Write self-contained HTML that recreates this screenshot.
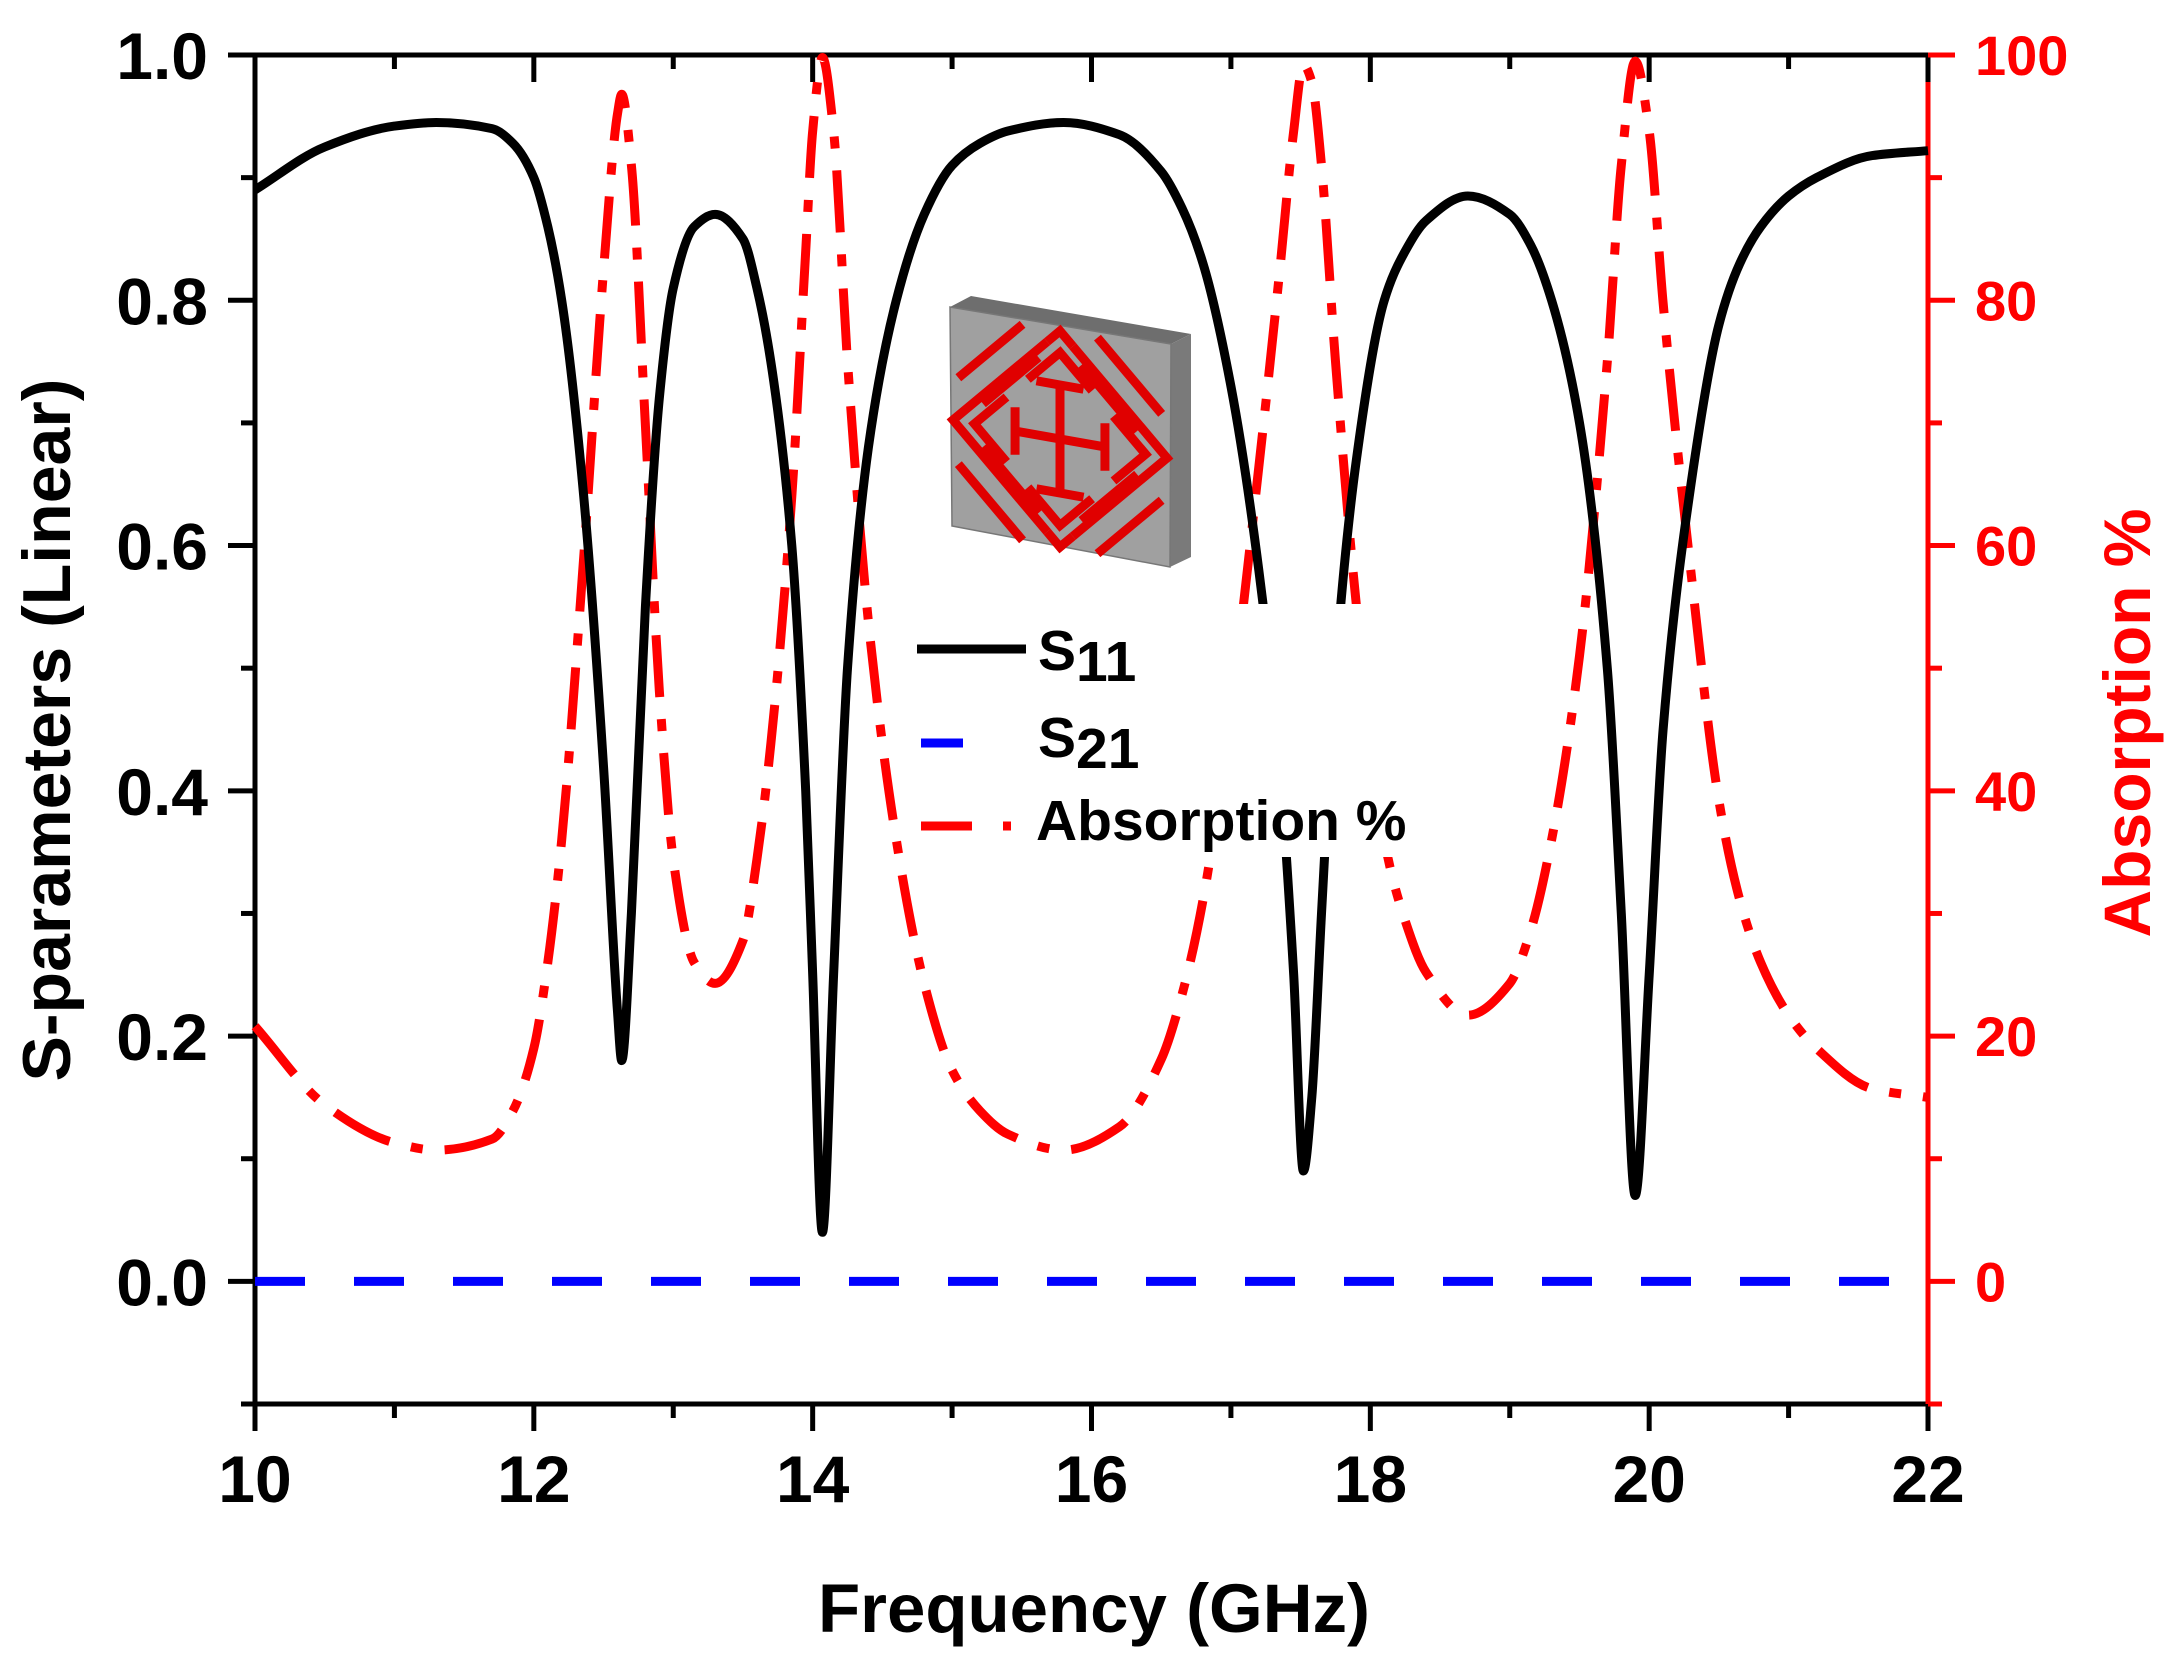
<!DOCTYPE html>
<html><head><meta charset="utf-8"><style>
html,body{margin:0;padding:0;background:#fff}
svg{display:block}
text{font-family:"Liberation Sans",Arial,sans-serif;font-weight:bold}
</style></head><body>
<svg id="chart" width="2168" height="1663" viewBox="0 0 2168 1663" xmlns="http://www.w3.org/2000/svg">
<g id="axes"></g>
<g id="series"></g>
<rect x="905" y="604" width="520" height="253" fill="#fff"/>
<g id="inset">
  <polygon points="950,307 971,296 1191,334 1171,344" fill="#6e6e6e"/>
  <polygon points="1171,344 1191,334 1191,557 1170,567" fill="#7a7a7a"/>
  <polygon points="950,307 1171,344 1170,567 952,526" fill="#a0a0a0" stroke="#777" stroke-width="1.5"/>
  <g transform="matrix(107,19,0,108,1060,439)" fill="none" stroke="#e00000" stroke-linecap="butt">
    <g stroke-width="9">
      <polyline points="-0.12,-0.88 0,-1 0.12,-0.88" vector-effect="non-scaling-stroke"/>
      <polyline points="-0.12,-0.88 -1,0 -0.12,0.88" vector-effect="non-scaling-stroke"/>
      <polyline points="0.12,-0.88 1,0 0.12,0.88" vector-effect="non-scaling-stroke"/>
      <polyline points="-0.12,0.88 0,1 0.12,0.88" vector-effect="non-scaling-stroke"/>
      <polyline points="-0.3,-0.5 0,-0.8 0.3,-0.5" vector-effect="non-scaling-stroke"/>
      <polyline points="-0.5,-0.3 -0.8,0 -0.5,0.3" vector-effect="non-scaling-stroke"/>
      <polyline points="0.5,-0.3 0.8,0 0.5,0.3" vector-effect="non-scaling-stroke"/>
      <polyline points="-0.3,0.5 0,0.8 0.3,0.5" vector-effect="non-scaling-stroke"/>
      <line x1="-0.2" y1="-0.72" x2="-0.72" y2="-0.2" vector-effect="non-scaling-stroke"/>
      <line x1="0.2" y1="-0.72" x2="0.72" y2="-0.2" vector-effect="non-scaling-stroke"/>
      <line x1="-0.2" y1="0.72" x2="-0.72" y2="0.2" vector-effect="non-scaling-stroke"/>
      <line x1="0.2" y1="0.72" x2="0.72" y2="0.2" vector-effect="non-scaling-stroke"/>
      <line x1="-0.35" y1="-1.0" x2="-0.95" y2="-0.4" vector-effect="non-scaling-stroke"/>
      <line x1="0.35" y1="-1.0" x2="0.95" y2="-0.4" vector-effect="non-scaling-stroke"/>
      <line x1="-0.35" y1="1.0" x2="-0.95" y2="0.4" vector-effect="non-scaling-stroke"/>
      <line x1="0.35" y1="1.0" x2="0.95" y2="0.4" vector-effect="non-scaling-stroke"/>
      <line x1="-0.42" y1="0" x2="0.42" y2="0" vector-effect="non-scaling-stroke"/>
      <line x1="0" y1="-0.5" x2="0" y2="0.5" vector-effect="non-scaling-stroke"/>
      <line x1="-0.22" y1="-0.5" x2="0.22" y2="-0.5" vector-effect="non-scaling-stroke"/>
      <line x1="-0.22" y1="0.5" x2="0.22" y2="0.5" vector-effect="non-scaling-stroke"/>
      <line x1="-0.42" y1="-0.22" x2="-0.42" y2="0.22" vector-effect="non-scaling-stroke"/>
      <line x1="0.42" y1="-0.22" x2="0.42" y2="0.22" vector-effect="non-scaling-stroke"/>
    </g>
  </g>
</g>
<g id="legend">
  <g>
    <line x1="917" y1="649" x2="1026" y2="649" stroke="#000" stroke-width="9"/>
    <text x="1038" y="670" font-size="57">S<tspan dy="11">11</tspan></text>
  </g>
  <g>
    <line x1="921" y1="743" x2="963" y2="743" stroke="#0000ff" stroke-width="9"/>
    <text x="1038" y="757" font-size="57">S<tspan dy="11">21</tspan></text>
  </g>
  <g>
    <line x1="921" y1="826" x2="972" y2="826" stroke="#ff0000" stroke-width="9"/>
    <line x1="1003" y1="826" x2="1011" y2="826" stroke="#ff0000" stroke-width="9"/>
    <text x="1036" y="840" font-size="57">Absorption %</text>
  </g>
</g>
<text x="1094" y="1632" font-size="69" text-anchor="middle">Frequency (GHz)</text>
<text transform="translate(70,730) rotate(-90)" font-size="68" text-anchor="middle">S-parameters (Linear)</text>
<text transform="translate(2150,723) rotate(-90)" font-size="66" text-anchor="middle" fill="#ff0000">Absorption %</text>
</svg>
<script>
const freqS11 = [10.0,10.5,11.0,11.3,11.7,11.85,12.0,12.1,12.2,12.35,12.5,12.6,12.63,12.7,12.8,12.9,13.0,13.15,13.3,13.5,13.6,13.7,13.85,13.95,14.0,14.07,14.15,14.25,14.4,14.6,14.8,15.0,15.2,15.4,15.8,16.2,16.5,16.65,16.8,17.0,17.2,17.35,17.45,17.52,17.58,17.65,17.75,17.9,18.1,18.25,18.4,18.7,19.0,19.15,19.3,19.5,19.7,19.8,19.9,20.0,20.1,20.3,20.5,20.65,20.8,21.0,21.2,21.6,22.0];
const s11Values = [0.89,0.925,0.942,0.945,0.94,0.928,0.90,0.86,0.80,0.65,0.42,0.22,0.18,0.30,0.55,0.72,0.81,0.86,0.87,0.85,0.81,0.75,0.60,0.40,0.25,0.04,0.25,0.50,0.68,0.80,0.87,0.91,0.928,0.938,0.945,0.935,0.905,0.875,0.83,0.73,0.58,0.42,0.25,0.09,0.15,0.30,0.50,0.67,0.80,0.84,0.865,0.885,0.87,0.845,0.80,0.70,0.50,0.30,0.07,0.25,0.45,0.65,0.78,0.83,0.86,0.885,0.90,0.918,0.922];
const absorptionValues = [20.8,14.4,11.3,10.7,11.6,13.9,19.0,26.0,36.0,57.8,82.4,95.2,96.8,91.0,69.8,48.2,34.4,26.0,24.3,27.8,34.4,43.8,64.0,84.0,93.8,99.8,93.8,75.0,53.8,36.0,24.3,17.2,13.9,12.0,10.7,12.6,18.1,23.4,31.1,46.7,66.4,82.4,93.8,99.2,97.8,91.0,75.0,55.1,36.0,29.4,25.2,21.7,24.3,28.6,36.0,51.0,75.0,91.0,99.5,93.8,79.8,57.8,39.2,31.1,26.0,21.7,19.0,15.7,15.0];
const s21Freq = [10, 22];
const s21Values = [0, 0];
const xTicks = [10,12,14,16,18,20,22];
const yLeftTicks = ["0.0","0.2","0.4","0.6","0.8","1.0"];
const yRightTicks = [0,20,40,60,80,100];

const NS = "http://www.w3.org/2000/svg";
const X0=255, X1=1928, YT=55, YB=1404;
const xS = f => X0 + (f-10)/12*(X1-X0);
const yS = v => YB - (v+0.1)/1.1*(YB-YT);
const yR = a => yS(a/100);
function mk(tag, attrs, parent){const e=document.createElementNS(NS,tag);for(const k in attrs)e.setAttribute(k,attrs[k]);parent.appendChild(e);return e;}
function smooth(p){
  const n=p.length, d=[], m=[];
  for(let i=0;i<n-1;i++) d.push((p[i+1][1]-p[i][1])/(p[i+1][0]-p[i][0]));
  m[0]=d[0]; m[n-1]=d[n-2];
  for(let i=1;i<n-1;i++){
    if(d[i-1]*d[i]<=0) m[i]=0;
    else { const h0=p[i][0]-p[i-1][0], h1=p[i+1][0]-p[i][0];
      const w1=2*h1+h0, w2=h1+2*h0; m[i]=(w1+w2)/(w1/d[i-1]+w2/d[i]); }
  }
  let s=`M${p[0][0].toFixed(1)},${p[0][1].toFixed(1)}`;
  for(let i=0;i<n-1;i++){
    const h=(p[i+1][0]-p[i][0])/3;
    s+=`C${(p[i][0]+h).toFixed(1)},${(p[i][1]+m[i]*h).toFixed(1)} ${(p[i+1][0]-h).toFixed(1)},${(p[i+1][1]-m[i+1]*h).toFixed(1)} ${p[i+1][0].toFixed(1)},${p[i+1][1].toFixed(1)}`;
  }
  return s;
}
const ax=document.getElementById('axes');
const se=document.getElementById('series');

const absPath=mk('path',{d:smooth(freqS11.map((f,i)=>[xS(f),yR(absorptionValues[i])])),fill:'none',stroke:'#ff0000','stroke-width':9,'stroke-dasharray':'62 22 12 22'},se);


const s21Path=mk('path',{d:`M${xS(s21Freq[0])},${yS(s21Values[0])}L${xS(s21Freq[1])},${yS(s21Values[1])}`,fill:'none',stroke:'#0000ff','stroke-width':9,'stroke-dasharray':'50 49'},se);


const s11Path=mk('path',{d:smooth(freqS11.map((f,i)=>[xS(f),yS(s11Values[i])])),fill:'none',stroke:'#000','stroke-width':9,'stroke-linejoin':'round'},se);



const lw=5;
let l;
l=mk('line',{x1:X0,y1:YT,x2:X0,y2:YB,stroke:'#000','stroke-width':lw},ax);


l=mk('line',{x1:X0-14,y1:YB,x2:X1,y2:YB,stroke:'#000','stroke-width':lw},ax);


l=mk('line',{x1:X0-2,y1:YT,x2:X1,y2:YT,stroke:'#000','stroke-width':lw},ax);


l=mk('line',{x1:X1,y1:YT,x2:X1,y2:YB,stroke:'#ff0000','stroke-width':lw},ax);



for(let f=10;f<=22;f++){
  const major=(f%2===0), x=xS(f);
  const t1=mk('line',{x1:x,y1:YB,x2:x,y2:YB+(major?27:14),stroke:'#000','stroke-width':lw},ax);
  
  
  const t2=mk('line',{x1:x,y1:YT,x2:x,y2:YT+(major?27:14),stroke:'#000','stroke-width':lw},ax);
  
  
}
xTicks.forEach(f=>{
  const t=mk('text',{x:xS(f),y:1502,'font-size':66,'text-anchor':'middle'},ax);
  t.textContent=String(f);
  
  
});
for(let k=-1;k<=10;k++){
  const v=k/10, y=yS(v), major=(k>=0&&k%2===0);
  const t=mk('line',{x1:X0-(major?27:14),y1:y,x2:X0,y2:y,stroke:'#000','stroke-width':lw},ax);
  
  
}
yLeftTicks.forEach(s=>{
  const t=mk('text',{x:208,y:yS(parseFloat(s))+24,'font-size':66,'text-anchor':'end'},ax);
  t.textContent=s;
  
  
});
for(let k=-1;k<=10;k++){
  const y=yR(k*10), major=(k>=0&&k%2===0);
  const t=mk('line',{x1:X1,y1:y,x2:X1+(major?27:14),y2:y,stroke:'#ff0000','stroke-width':lw},ax);
  
  
}
yRightTicks.forEach(a=>{
  const t=mk('text',{x:1975,y:yR(a)+20,'font-size':56,fill:'#ff0000'},ax);
  t.textContent=String(a);
  
  
});
</script>
</body></html>
